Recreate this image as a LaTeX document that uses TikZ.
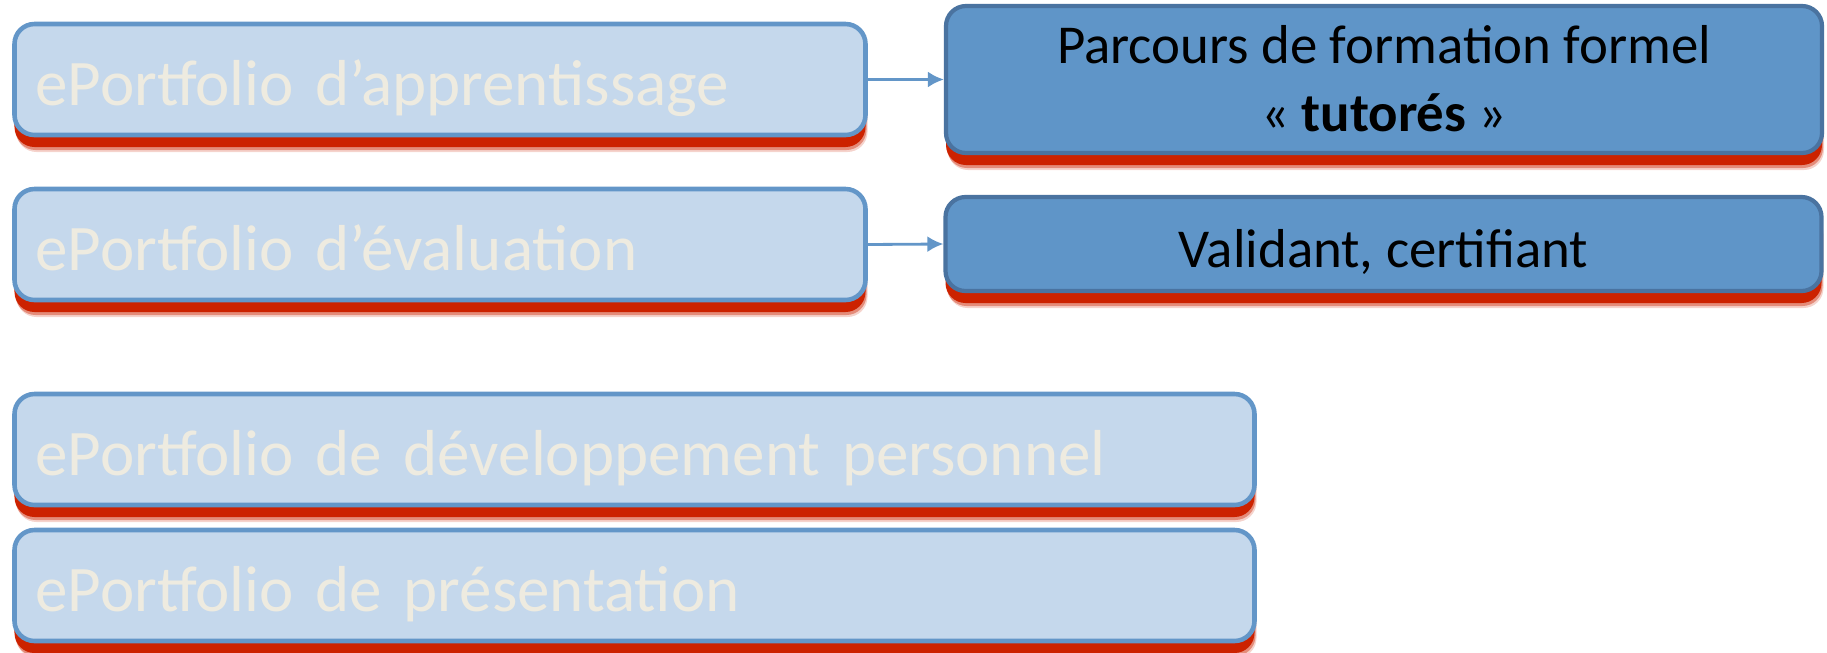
\documentclass[tikz,border=0pt]{standalone}
\usepackage{fontspec}
\setmainfont{Carlito}
\usetikzlibrary{arrows.meta,shadows}

\definecolor{paleblue}{HTML}{C5D8EC}
\definecolor{edgeblue}{HTML}{6396C8}
\definecolor{midblue}{HTML}{5F95C8}
\definecolor{deepblue}{HTML}{4A73A0}
\definecolor{cream}{HTML}{EEEBE0}
\definecolor{shadowred}{HTML}{CC2200}

\begin{document}
\begin{tikzpicture}[
  >=Latex,
  redshadow/.style={drop shadow={shadow xshift=0.02cm, shadow yshift=-0.17cm,
                    fill=shadowred, opacity=0.2},
                    drop shadow={shadow xshift=0.01cm, shadow yshift=-0.15cm,
                    fill=shadowred, opacity=0.4},
                    drop shadow={shadow xshift=0pt, shadow yshift=-0.12cm,
                    fill=shadowred, opacity=1}},
  kind/.style={draw=edgeblue, line width=1.3pt, rounded corners=0.2cm,
               fill=paleblue, text=cream, redshadow, align=left,
               font=\fontsize{18.5}{22}\selectfont, inner xsep=0.21cm,
               text height=0.6cm, text depth=0.08cm, minimum height=1.11cm},
  use/.style={draw=deepblue, line width=1.2pt, rounded corners=0.2cm,
              fill=midblue, text=black, redshadow, align=center,
              font=\fontsize{15.6}{19.4}\selectfont, minimum width=8.76cm},
  link/.style={->, draw=edgeblue, line width=0.8pt,
               arrows={-Latex[length=0.16cm, width=0.16cm]}}
]
  \useasboundingbox (0,0) rectangle (18.27,-6.52);

  % the four kinds of ePortfolio
  \node[kind, text width=8.09cm]  (app)  at (4.40,-0.795)  {ePortfolio d’apprentissage};
  \node[kind, text width=8.09cm]  (eval) at (4.40,-2.445)  {ePortfolio d’évaluation};
  \node[kind, text width=11.98cm] (dev)  at (6.345,-4.495) {ePortfolio de développement personnel};
  \node[kind, text width=11.98cm] (pres) at (6.345,-5.855) {ePortfolio de présentation};

  % what they are used for
  \node[use, minimum height=1.47cm, text depth=0.02cm] (parc)  at (13.84,-0.795)
       {Parcours de formation formel\\« \textbf{tutorés} »};
  \node[use, minimum height=0.94cm, text height=0.52cm, text depth=0.06cm] (valid) at (13.835,-2.44)
       {Validant, certifiant};

  \draw[link] (app.east)  -- (parc.west);
  \draw[link] (eval.east) -- (valid.west);
\end{tikzpicture}
\end{document}
